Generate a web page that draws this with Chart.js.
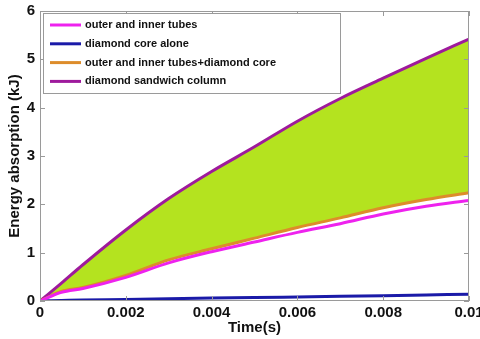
<!DOCTYPE html>
<html>
<head>
<meta charset="utf-8">
<script src="https://cdn.jsdelivr.net/npm/chart.js@4.4.1/dist/chart.umd.min.js"></script>
<style>
  html, body { margin: 0; padding: 0; background: #fff; overflow: hidden; }
  #wrap { width: 480px; height: 339px; }
</style>
</head>
<body>
<div id="wrap"><canvas id="energyChart"></canvas></div>
<script>
// time (s)
const time = [0, 0.0005, 0.001, 0.002, 0.003, 0.004, 0.005, 0.006, 0.007, 0.008, 0.009, 0.010];
// energy absorption (kJ)
const tubes    = [0, 0.18, 0.26, 0.49, 0.79, 1.02, 1.22, 1.42, 1.60, 1.80, 1.96, 2.08];
const core     = [0, 0.01, 0.02, 0.03, 0.045, 0.06, 0.07, 0.085, 0.10, 0.11, 0.125, 0.14];
const combined = [0, 0.20, 0.28, 0.53, 0.85, 1.08, 1.30, 1.52, 1.72, 1.93, 2.10, 2.24];
const sandwich = [0, 0.37, 0.75, 1.47, 2.12, 2.68, 3.19, 3.72, 4.19, 4.61, 5.02, 5.42];

const xTicks = [0, 0.002, 0.004, 0.006, 0.008, 0.01];
const yTicks = [0, 1, 2, 3, 4, 5, 6];

const labels = [
  'outer and inner tubes',
  'diamond core alone',
  'outer and inner tubes+diamond core',
  'diamond sandwich column'
];
const colors = ['#ee22ee', '#1a1aa8', '#dd8c2a', '#9e1a9c'];

function pts(arr) {
  return arr.map((v, i) => ({ x: time[i], y: v }));
}

const FONT = 'Liberation Sans, Arial, sans-serif';

// MATLAB-like box with inward ticks
const boxPlugin = {
  id: 'box',
  afterDatasetsDraw(chart) {
    const c = chart.ctx, a = chart.chartArea;
    const xs = chart.scales.x, ys = chart.scales.y;
    c.save();
    c.strokeStyle = '#9a9a9a';
    c.lineWidth = 1;
    c.strokeRect(a.left + 0.5, a.top + 0.5, a.right - a.left - 1, a.bottom - a.top - 1);
    c.beginPath();
    xTicks.forEach(t => {
      const px = Math.round(xs.getPixelForValue(t)) + 0.5;
      c.moveTo(px, a.bottom); c.lineTo(px, a.bottom - 5);
      c.moveTo(px, a.top); c.lineTo(px, a.top + 5);
    });
    yTicks.forEach(t => {
      const py = Math.round(ys.getPixelForValue(t)) + 0.5;
      c.moveTo(a.left, py); c.lineTo(a.left + 5, py);
      c.moveTo(a.right, py); c.lineTo(a.right - 5, py);
    });
    c.stroke();
    c.restore();
  }
};

// legend box in the upper left corner
const legendPlugin = {
  id: 'boxLegend',
  afterDraw(chart) {
    const c = chart.ctx;
    const L = 43, T = 13, R = 340, B = 93;
    c.save();
    c.fillStyle = '#fff';
    c.fillRect(L, T, R - L, B - T);
    c.strokeStyle = '#9a9a9a';
    c.lineWidth = 1;
    c.strokeRect(L + 0.5, T + 0.5, R - L, B - T);
    c.font = 'bold 11px ' + FONT;
    c.textBaseline = 'middle';
    chart.data.datasets.forEach((ds, i) => {
      const y = 25 + i * 18.8;
      c.strokeStyle = ds.borderColor;
      c.lineWidth = 3;
      c.beginPath();
      c.moveTo(50, y); c.lineTo(81, y);
      c.stroke();
      c.fillStyle = '#111';
      c.fillText(ds.label, 85, y);
    });
    c.restore();
  }
};

new Chart(document.getElementById('energyChart'), {
  type: 'line',
  data: {
    datasets: [
      { label: labels[0], data: pts(tubes), borderColor: colors[0], borderWidth: 3, fill: false },
      { label: labels[1], data: pts(core), borderColor: colors[1], borderWidth: 3, fill: false },
      { label: labels[2], data: pts(combined), borderColor: colors[2], borderWidth: 3, fill: false },
      { label: labels[3], data: pts(sandwich), borderColor: colors[3], borderWidth: 3,
        fill: { target: 2 }, backgroundColor: '#b4e31f' }
    ]
  },
  plugins: [boxPlugin, legendPlugin],
  options: {
    responsive: true,
    maintainAspectRatio: false,
    animation: false,
    layout: { padding: { top: 11, right: 11, left: 0, bottom: 0 } },
    elements: {
      point: { radius: 0 },
      line: { cubicInterpolationMode: 'monotone' }
    },
    plugins: {
      legend: { display: false },
      tooltip: { enabled: false }
    },
    scales: {
      x: {
        type: 'linear',
        min: 0, max: 0.01,
        afterBuildTicks: s => { s.ticks = xTicks.map(v => ({ value: v })); },
        afterFit: s => { s.height = 38; s.paddingLeft = 0; s.paddingRight = 0; },
        grid: { display: false, drawTicks: false },
        border: { display: false },
        ticks: {
          padding: 3,
          color: '#111',
          font: { family: FONT, size: 15, weight: 'bold' },
          maxRotation: 0,
          callback: v => String(v)
        },
        title: {
          display: true,
          text: 'Time(s)',
          color: '#111',
          font: { family: FONT, size: 15, weight: 'bold' },
          padding: { top: 0, bottom: 2 }
        }
      },
      y: {
        min: 0, max: 6,
        afterBuildTicks: s => { s.ticks = yTicks.map(v => ({ value: v })); },
        afterFit: s => { s.width = 40; s.paddingTop = 0; s.paddingBottom = 0; },
        grid: { display: false, drawTicks: false },
        border: { display: false },
        ticks: {
          padding: 5,
          color: '#111',
          font: { family: FONT, size: 15, weight: 'bold' }
        },
        title: {
          display: true,
          text: 'Energy absorption (kJ)',
          color: '#111',
          font: { family: FONT, size: 15, weight: 'bold' },
          padding: { top: 6, bottom: 0 }
        }
      }
    }
  }
});
</script>
</body>
</html>
